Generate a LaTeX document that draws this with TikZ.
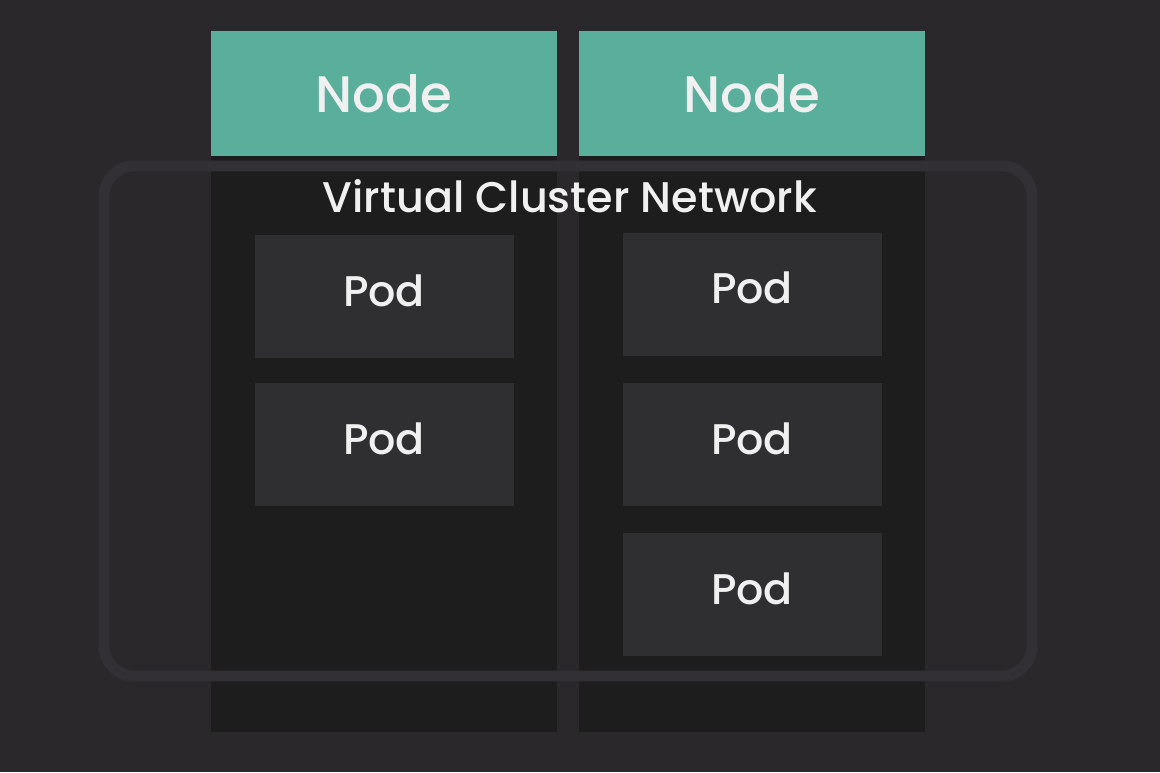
\documentclass[tikz,border=0pt]{standalone}
\usepackage{fontspec}
\setmainfont{Poppins}[UprightFont=* Medium]
\usetikzlibrary{positioning}
\definecolor{bgdark}{RGB}{42, 40, 43}
\definecolor{coldark}{RGB}{29, 29, 30}
\definecolor{podgray}{RGB}{47, 46, 49}
\definecolor{nodeteal}{RGB}{90, 175, 155}
\definecolor{netgray}{RGB}{50, 48, 52}
\definecolor{textwhite}{RGB}{240, 240, 240}

\begin{document}
\begin{tikzpicture}[
    headbox/.style={rectangle, fill=nodeteal, text=textwhite, font=\fontsize{36.5}{42}\selectfont, minimum width=8.65cm, minimum height=3.125cm, inner sep=0pt},
    colbox/.style={rectangle, fill=coldark, minimum width=8.65cm, minimum height=14.4cm, inner sep=0pt},
    podbox/.style={rectangle, fill=podgray, text=textwhite, font=\fontsize{30.5}{36}\selectfont, minimum width=6.475cm, minimum height=3.075cm, inner sep=0pt, text depth=0.3cm},
    netbox/.style={rectangle, draw=netgray, line width=7.8pt, rounded corners=0.75cm, minimum width=23.2cm, minimum height=12.75cm, inner sep=0pt}
]
    % Background, 1160x772 px at 0.025cm per px
    \fill[bgdark] (0, 0) rectangle (29, -19.3);
    \useasboundingbox (0, 0) rectangle (29, -19.3);

    % Node columns below the headers
    \node[colbox] (col1) at (9.6, -11.1) {};
    \node[colbox] (col2) at (18.8, -11.1) {};

    % Node headers
    \node[headbox] (head1) at (9.6, -2.3375) {Node};
    \node[headbox] (head2) at (18.8, -2.3375) {Node};

    % Pods in the left node
    \node[podbox] (pod11) at (9.6, -7.41) {Pod};
    \node[podbox] (pod12) at (9.6, -11.11) {Pod};

    % Pods in the right node
    \node[podbox] (pod21) at (18.8, -7.35) {Pod};
    \node[podbox] (pod22) at (18.8, -11.11) {Pod};
    \node[podbox] (pod23) at (18.8, -14.86) {Pod};

    % Virtual network frame over both nodes
    \node[netbox] (net) at (14.2, -10.525) {};
    \node[text=textwhite, font=\fontsize{30.5}{36}\selectfont, anchor=base] (netlabel) at (14.25, -5.3) {Virtual Cluster Network};
\end{tikzpicture}
\end{document}
